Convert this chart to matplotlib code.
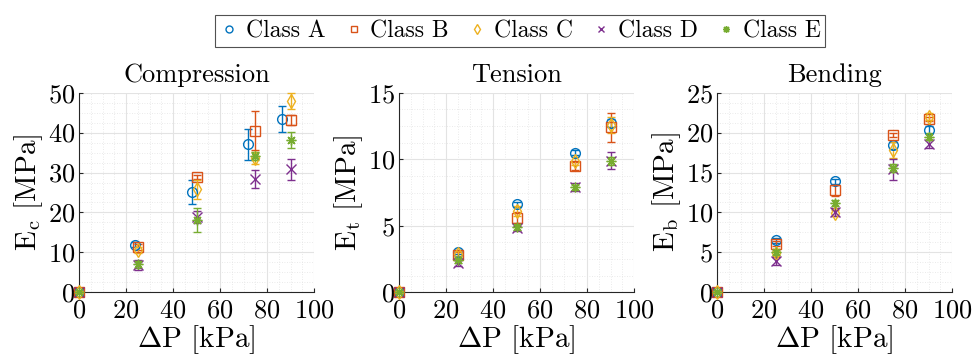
import matplotlib
matplotlib.use("Agg")
import matplotlib.pyplot as plt
from matplotlib.ticker import AutoMinorLocator
from matplotlib.lines import Line2D

plt.rcParams['font.family'] = ['cmr10']
plt.rcParams['mathtext.fontset'] = 'cm'
plt.rcParams['axes.formatter.use_mathtext'] = True

# pressure steps [kPa]
dp = [0, 25, 50, 75, 90]
# class A sits slightly left in the compression test
dp_comp_a = [0, 24, 48, 72, 86.5]

classes = ["Class A", "Class B", "Class C", "Class D", "Class E"]
colors = ["#0072BD", "#D95319", "#EDB120", "#7E2F8E", "#77AC30"]
markers = ["o", "s", "d", "x", (8, 2, 0)]

# compression modulus [MPa]
ec_a = [0, 11.9, 25.2, 37.1, 43.4]
ec_b = [0, 11.4, 29.0, 40.5, 43.2]
ec_c = [0, 10.6, 25.8, 33.6, 47.9]
ec_d = [0, 6.8, 18.9, 28.4, 30.8]
ec_e = [0, 7.0, 18.1, 34.2, 38.1]
ec_err_a = [0, 0.6, 3.0, 3.9, 3.3]
ec_err_b = [0, 0.8, 0.5, 4.8, 1.2]
ec_err_c = [0, 0.8, 2.4, 1.5, 1.9]
ec_err_d = [0, 1.2, 1.5, 2.3, 2.6]
ec_err_e = [0, 0.8, 3.1, 1.0, 2.0]

# tension modulus [MPa]
et_a = [0, 3.0, 6.6, 10.5, 12.7]
et_b = [0, 2.8, 5.6, 9.5, 12.4]
et_c = [0, 2.9, 6.1, 9.9, 12.6]
et_d = [0, 2.2, 4.8, 7.9, 9.9]
et_e = [0, 2.4, 4.9, 7.9, 9.9]
et_err_a = [0, 0.15, 0.2, 0.2, 0.3]
et_err_b = [0, 0.2, 0.4, 0.3, 1.1]
et_err_c = [0, 0.2, 0.4, 0.3, 0.6]
et_err_d = [0, 0.2, 0.2, 0.3, 0.65]
et_err_e = [0, 0.2, 0.2, 0.2, 0.3]

# bending modulus [MPa]
eb_a = [0, 6.5, 13.9, 18.4, 20.3]
eb_b = [0, 6.1, 12.8, 19.7, 21.7]
eb_c = [0, 4.9, 9.9, 17.8, 22.0]
eb_d = [0, 3.9, 10.1, 15.4, 18.6]
eb_e = [0, 5.0, 11.2, 15.6, 19.5]
eb_err_a = [0, 0.3, 0.3, 0.4, 0.5]
eb_err_b = [0, 0.3, 0.7, 0.3, 0.3]
eb_err_c = [0, 0.3, 0.4, 1.0, 0.4]
eb_err_d = [0, 0.5, 0.5, 1.3, 0.5]
eb_err_e = [0, 0.3, 0.4, 0.5, 0.4]

panels = [
    ("Compression", r"E$_\mathrm{c}$ [MPa]", 50, 10,
     [dp_comp_a, dp, dp, dp, dp],
     [ec_a, ec_b, ec_c, ec_d, ec_e],
     [ec_err_a, ec_err_b, ec_err_c, ec_err_d, ec_err_e]),
    ("Tension", r"E$_\mathrm{t}$ [MPa]", 15, 5,
     [dp] * 5,
     [et_a, et_b, et_c, et_d, et_e],
     [et_err_a, et_err_b, et_err_c, et_err_d, et_err_e]),
    ("Bending", r"E$_\mathrm{b}$ [MPa]", 25, 5,
     [dp] * 5,
     [eb_a, eb_b, eb_c, eb_d, eb_e],
     [eb_err_a, eb_err_b, eb_err_c, eb_err_d, eb_err_e]),
]

W, H = 974, 356
fig = plt.figure(figsize=(W / 100, H / 100), dpi=100)
lefts = [79, 399, 717]
ax_w, ax_top, ax_bot = 235, 92.7, 292.3

for left, (title, ylab, ymax, ystep, xs, ys, errs) in zip(lefts, panels):
    ax = fig.add_axes([left / W, 1 - ax_bot / H, ax_w / W, (ax_bot - ax_top) / H])
    for x, y, e, c, m in zip(xs, ys, errs, colors, markers):
        ax.errorbar(x, y, yerr=e, fmt="none", ecolor=c, elinewidth=1.0,
                    capsize=3, capthick=1.0, clip_on=False, zorder=3)
        ax.plot(x, y, linestyle="none", marker=m, markersize=7,
                markerfacecolor="none", markeredgecolor=c, markeredgewidth=1.0,
                clip_on=False, zorder=4)
    ax.set_xlim(0, 100)
    ax.set_ylim(0, ymax)
    ax.set_xticks(range(0, 101, 20))
    ax.set_yticks(range(0, ymax + 1, ystep))
    ax.xaxis.set_minor_locator(AutoMinorLocator(4))
    ax.yaxis.set_minor_locator(AutoMinorLocator(4))
    ax.grid(which="major", color="#e3e3e3", linewidth=0.8)
    ax.grid(which="minor", color="#e3e3e3", linewidth=0.6, linestyle=(0, (1, 2)))
    ax.set_axisbelow(True)
    for s in ["top", "right"]:
        ax.spines[s].set_visible(False)
    for s in ["left", "bottom"]:
        ax.spines[s].set_color("#262626")
        ax.spines[s].set_linewidth(0.8)
    ax.tick_params(which="major", direction="in", length=3, width=0.8,
                   colors="#262626", labelsize=19, labelcolor="black")
    ax.tick_params(axis="x", which="major", pad=5)
    ax.tick_params(axis="y", which="major", pad=3)
    ax.tick_params(which="minor", length=0)
    ax.set_title(title, fontsize=19, pad=8)
    ax.set_xlabel(r"$\Delta$P [kPa]", fontsize=21, labelpad=0)
    ax.set_ylabel(ylab, fontsize=21, labelpad=2)

handles = [Line2D([], [], linestyle="none", marker=m, markersize=5,
                  markerfacecolor="none", markeredgecolor=c, markeredgewidth=1.0)
           for c, m in zip(colors, markers)]
leg = fig.legend(handles, classes, loc="upper center", bbox_to_anchor=(0.534, 0.99),
                 ncol=5, fontsize=17, frameon=True, fancybox=False,
                 handlelength=0.8, handletextpad=0.3, columnspacing=0.8,
                 borderpad=0.2)
leg.get_frame().set_edgecolor("#262626")
leg.get_frame().set_linewidth(0.8)

fig.savefig("out.png", dpi=100)
